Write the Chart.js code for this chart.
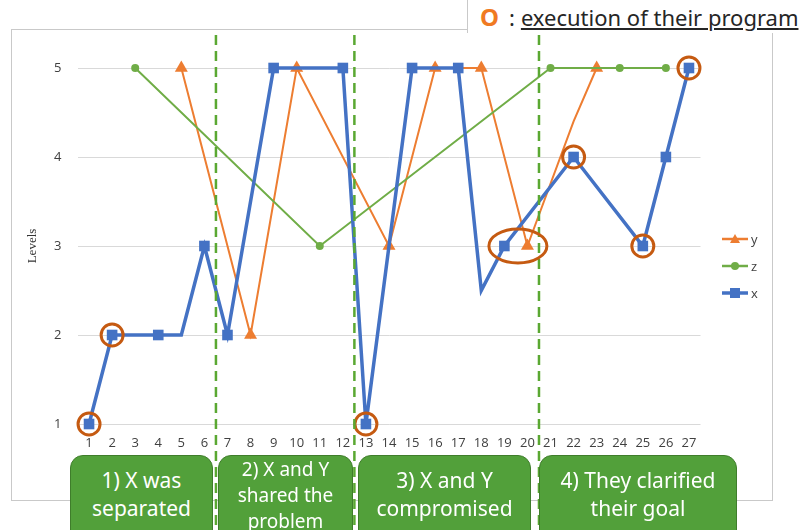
<!DOCTYPE html>
<html>
<head>
<meta charset="utf-8">
<script src="https://cdn.jsdelivr.net/npm/chart.js@4/dist/chart.umd.min.js"></script>
<style>
  html, body { margin: 0; padding: 0; background: #fff; width: 810px; height: 530px; overflow: hidden; }
  #frame { position: absolute; left: 11px; top: 29px; width: 760px; height: 470px; border: 1px solid #c9c9c9; }
  #wrap { position: absolute; left: 0; top: 0; width: 810px; height: 530px; }
  #note { position: absolute; left: 467px; top: 0; width: 343px; height: 33px; background: #fff;
          border-left: 1px solid #c9c9c9; font-family: "Noto Sans", sans-serif; font-size: 22px;
          color: #262626; white-space: nowrap; line-height: 33px; }
  #note .ring { color: #f07a22; font-weight: bold; font-size: 24px; margin-left: 12px; margin-right: 10px; }
  #note .txt { text-decoration: underline; text-underline-offset: 2px; margin-left: 6px; }
  .phase { position: absolute; top: 455px; height: 90px; box-sizing: border-box; background: #52a03a;
           border: 1.5px solid #3f7d2b; border-radius: 13px; color: #fff; text-align: center;
           font-family: "Noto Sans", sans-serif; white-space: pre-line; }
</style>
</head>
<body>
<div id="frame"></div>
<div id="wrap"><canvas id="chart"></canvas></div>
<div id="note"><span class="ring">O</span>:<span class="txt">execution of their program</span></div>
<div id="phases"></div>
<script>
const tickLabels = ['1', '2', '3', '4', '5', '6', '7', '8', '9', '10', '11', '12', '13', '14',
                    '15', '16', '17', '18', '19', '20', '21', '22', '23', '24', '25', '26', '27'];
const yTicks = [1, 2, 3, 4, 5];

// level of each speaker per step (null = no value, line spans the gap)
const seriesX = [1, 2, 2, 2, 2, 3, 2, null, 5, 5, 5, 5, 1, null, 5, 5, 5, 2.5, 3, null, null, 4, null, null, 3, 4, 5];
const seriesY = [null, null, null, null, 5, null, null, 2, null, 5, null, null, null, 3, null, 5, null, 5, null, 3, null, 4.4, 5, null, null, null, null];
const seriesZ = [null, null, 5, null, null, null, null, null, null, null, 3, null, null, null, null, null, null, null, null, null, 5, null, null, 5, null, 5, null];
// steps drawn without a marker
const noMarkX = ['3', '5', '10', '11', '16', '18'];
const noMarkY = ['22'];

// execution of their program
const execution = [1, 2, null, null, null, null, null, null, null, null, null, null, 1, null, null, null, null, null, null, null, null, 4, null, null, 3, null, 5];
const executionPair = ['19', '20'];
const executionPairLevel = 3;

// phases: last step of each phase, and captions
const phaseEnds = ['6', '12', '20'];
const phaseNames = ['1) X was\nseparated', '2) X and Y\nshared the\nproblem', '3) X and Y\ncompromised', '4) They clarified\ntheir goal'];

const BLUE = '#4472c4', ORANGE = '#ed7d31', GREEN = '#70ad47', RING = '#c55a11';

const phaseBoxes = [
  { left: 70, width: 143, font: 21, lh: 28, pad: 10 },
  { left: 218, width: 135, font: 19, lh: 26, pad: 0 },
  { left: 358, width: 173, font: 21, lh: 28, pad: 10 },
  { left: 539, width: 198, font: 21, lh: 28, pad: 10 }
];
const phasesDiv = document.getElementById('phases');
phaseNames.forEach((name, i) => {
  const b = phaseBoxes[i];
  const d = document.createElement('div');
  d.className = 'phase';
  d.style.left = b.left + 'px';
  d.style.width = b.width + 'px';
  d.style.fontSize = b.font + 'px';
  d.style.lineHeight = b.lh + 'px';
  d.style.paddingTop = b.pad + 'px';
  d.textContent = name;
  phasesDiv.appendChild(d);
});

const overlay = {
  id: 'overlay',
  afterDatasetsDraw(chart) {
    const { ctx, scales: { x, y } } = chart;
    ctx.save();
    // phase separators
    ctx.strokeStyle = '#5aa832';
    ctx.lineWidth = 2.5;
    ctx.setLineDash([10, 6]);
    phaseEnds.forEach(lbl => {
      const i = tickLabels.indexOf(lbl);
      const px = (x.getPixelForValue(i) + x.getPixelForValue(i + 1)) / 2;
      ctx.beginPath();
      ctx.moveTo(px, 35);
      ctx.lineTo(px, 530);
      ctx.stroke();
    });
    ctx.setLineDash([]);
    // ellipse around the pair
    const a = tickLabels.indexOf(executionPair[0]), b = tickLabels.indexOf(executionPair[1]);
    const cx = (x.getPixelForValue(a) + x.getPixelForValue(b)) / 2 + 2;
    const cy = y.getPixelForValue(executionPairLevel);
    ctx.strokeStyle = RING;
    ctx.lineWidth = 3;
    ctx.beginPath();
    ctx.ellipse(cx, cy, 29, 17, 0, 0, Math.PI * 2);
    ctx.stroke();
    ctx.restore();
  },
  afterDraw(chart) {
    const { ctx } = chart;
    const items = [
      { text: 'y', color: ORANGE, style: 'triangle' },
      { text: 'z', color: GREEN, style: 'circle' },
      { text: 'x', color: BLUE, style: 'rect' }
    ];
    ctx.save();
    items.forEach((it, i) => {
      const ly = 239 + i * 27;
      ctx.strokeStyle = it.color;
      ctx.fillStyle = it.color;
      ctx.lineWidth = it.style === 'rect' ? 3.5 : 2.5;
      ctx.beginPath();
      ctx.moveTo(722, ly);
      ctx.lineTo(748, ly);
      ctx.stroke();
      ctx.beginPath();
      if (it.style === 'triangle') {
        ctx.moveTo(735, ly - 5); ctx.lineTo(740, ly + 4); ctx.lineTo(730, ly + 4); ctx.closePath();
      } else if (it.style === 'circle') {
        ctx.arc(735, ly, 4, 0, Math.PI * 2);
      } else {
        ctx.rect(730, ly - 5, 10, 10);
      }
      ctx.fill();
      ctx.fillStyle = '#404040';
      ctx.font = '13px "Open Sans"';
      ctx.textBaseline = 'middle';
      ctx.fillText(it.text, 751, ly + 1);
    });
    ctx.restore();
  }
};

const radiusFor = (hidden, r) => c => (c.raw == null || hidden.includes(tickLabels[c.dataIndex])) ? 0 : r;

new Chart(document.getElementById('chart'), {
  type: 'line',
  data: {
    labels: tickLabels,
    datasets: [
      {
        label: 'execution', data: execution, showLine: false, clip: false,
        pointStyle: 'circle', pointRadius: 11, pointBorderWidth: 3,
        pointBorderColor: RING, pointBackgroundColor: 'rgba(0,0,0,0)', order: 0
      },
      {
        label: 'x', data: seriesX, borderColor: BLUE, backgroundColor: BLUE, borderWidth: 3.5,
        pointStyle: 'rect', pointRadius: radiusFor(noMarkX, 7.5), pointBorderWidth: 0,
        spanGaps: true, clip: false, order: 1
      },
      {
        label: 'z', data: seriesZ, borderColor: GREEN, backgroundColor: GREEN, borderWidth: 2,
        pointStyle: 'circle', pointRadius: 4, pointBorderWidth: 0,
        spanGaps: true, clip: false, order: 2
      },
      {
        label: 'y', data: seriesY, borderColor: ORANGE, backgroundColor: ORANGE, borderWidth: 2,
        pointStyle: 'triangle', pointRadius: radiusFor(noMarkY, 7.5), pointBorderWidth: 0,
        spanGaps: true, clip: false, order: 3
      }
    ]
  },
  options: {
    responsive: true,
    maintainAspectRatio: false,
    animation: false,
    events: [],
    layout: { padding: { left: 0, top: 68, right: 109.5, bottom: 76 } },
    plugins: { legend: { display: false }, tooltip: { enabled: false } },
    elements: { line: { tension: 0 } },
    scales: {
      x: {
        offset: true,
        grid: { display: false, drawTicks: false, offset: true },
        border: { display: false },
        ticks: { padding: 11, color: '#404040', font: { family: 'Open Sans', size: 13 }, maxRotation: 0, autoSkip: false },
        afterFit(s) { s.height = 30; }
      },
      y: {
        min: 1, max: 5,
        afterBuildTicks(s) { s.ticks = yTicks.map(v => ({ value: v })); },
        grid: { color: '#d9d9d9', lineWidth: 1, drawTicks: false },
        border: { display: false },
        ticks: { padding: 16, color: '#404040', font: { family: 'Open Sans', size: 13 } },
        title: { display: true, text: 'Levels', color: '#333', font: { family: 'Liberation Serif', size: 13 }, padding: { top: 25, bottom: 0 } },
        afterFit(s) { s.width = 77.5; }
      }
    }
  },
  plugins: [overlay]
});
</script>
</body>
</html>
